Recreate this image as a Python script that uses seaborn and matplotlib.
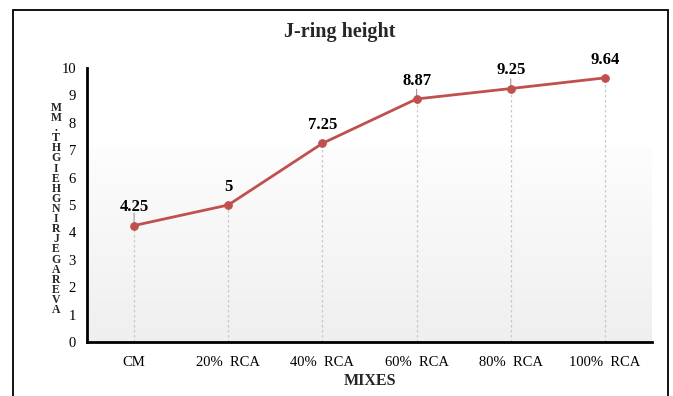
import numpy as np
import pandas as pd
import seaborn as sns
import matplotlib.pyplot as plt
from matplotlib.colors import LinearSegmentedColormap
from matplotlib.patches import Rectangle

# J-ring height per mix
mixes = ["CM", "20% RCA", "40% RCA", "60% RCA", "80% RCA", "100% RCA"]
heights = [4.25, 5, 7.25, 8.87, 9.25, 9.64]
value_labels = ["4.25", "5", "7.25", "8.87", "9.25", "9.64"]
y_ticks = [0, 1, 2, 3, 4, 5, 6, 7, 8, 9, 10]
ylabel_text = "AVERAGE J-RING HEIGHT.MM"

df = pd.DataFrame({"mix": mixes, "height": heights})
df["pos"] = np.arange(len(mixes))

sns.set_theme(style="white")
plt.rcParams["font.family"] = ["Liberation Serif", "DejaVu Serif"]

W, H = 673, 396
fig = plt.figure(figsize=(W / 100, H / 100), dpi=100)
fig.patch.set_facecolor("white")
ax = fig.add_axes([87 / W, 1 - 342 / H, (652 - 87) / W, (342 - 68) / H])
ax.set_facecolor("white")

line_color = "#c0504d"

# soft grey gradient in the lower part of the plot area
grad = np.linspace(0, 1, 256).reshape(-1, 1)
ax.imshow(grad, extent=[-0.5, len(mixes) - 0.5, 0, 7.1], aspect="auto",
          cmap=LinearSegmentedColormap.from_list("g", ["#efefef", "#fdfdfd"]),
          origin="lower", zorder=0, interpolation="bilinear")

# dotted drop lines from each point to the axis
for p, v in zip(df["pos"], df["height"]):
    ax.plot([p, p], [0, v], color="#c8c8c8", lw=0.9, ls=(0, (2, 2)), zorder=1)

sns.lineplot(data=df, x="pos", y="height", ax=ax, color=line_color,
             linewidth=2, marker="o", markersize=5.5,
             markeredgecolor=line_color, zorder=3)

# value labels with short leader lines where they sit higher
leaders = {0: 7, 3: 5, 4: 5}
for i, (p, v, s) in enumerate(zip(df["pos"], df["height"], value_labels)):
    ax.annotate(s, (p, v), xytext=(0, 13), textcoords="offset points",
                ha="center", va="center", fontsize=12, fontweight="bold",
                color="black", zorder=4)
    if i in leaders:
        ax.annotate("", (p, v), xytext=(0, leaders[i] + 2), textcoords="offset points",
                    arrowprops=dict(arrowstyle="-", color="#999999", lw=0.8,
                                    shrinkA=0, shrinkB=2), zorder=2)

ax.set_xlim(-0.5, len(mixes) - 0.5)
ax.set_ylim(0, 10)
ax.set_xticks(df["pos"])
ax.set_xticklabels([m.replace(" ", "  ") for m in mixes], fontsize=10.5)
ax.set_yticks(y_ticks)
ax.set_yticklabels([str(t) for t in y_ticks], fontsize=10.5)
ax.tick_params(axis="y", direction="in", length=5, width=1.5, pad=8, colors="black")
ax.tick_params(axis="x", length=0, pad=10, colors="black")
for side in ["top", "right"]:
    ax.spines[side].set_visible(False)
for side in ["left", "bottom"]:
    ax.spines[side].set_color("black")
    ax.spines[side].set_linewidth(2)
ax.set_xlabel("MIXES", fontsize=11.5, fontweight="bold", labelpad=3)
ax.set_ylabel("")

# title
fig.text(340 / W, 1 - 32 / H, "J-ring height", ha="center", va="center",
         fontsize=14.5, fontweight="bold")

# stacked vertical y-axis label, read from bottom to top
chars = [c for c in ylabel_text if c not in " -"]
fig.text(56 / W, 1 - 209 / H, "\n".join(reversed(chars)), ha="center",
         va="center", multialignment="center", fontsize=8.5,
         fontweight="bold", linespacing=0.79)

# outer frame
fig.add_artist(Rectangle((13 / W, -0.05), (668 - 13) / W, 1 - 10 / H + 0.05,
                         transform=fig.transFigure, fill=False,
                         edgecolor="black", lw=1.3, clip_on=False))

fig.savefig("out.png", dpi=100)
